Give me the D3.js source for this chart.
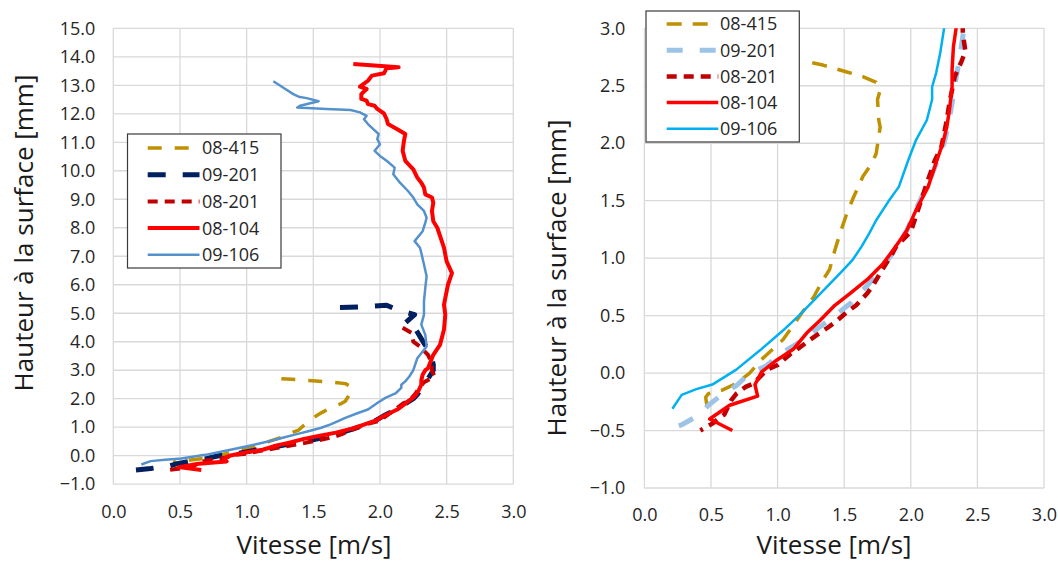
<!DOCTYPE html>
<html><head><meta charset="utf-8">
<script src="https://cdn.jsdelivr.net/npm/d3@7"></script>
<style>
body{margin:0;background:#fff}
svg{display:block}
text{font-family:"Open Sans",sans-serif}
</style>
</head><body>
<svg id="c" width="1058" height="563"></svg>
<script>
// ---------- DATA ----------
const seriesNames = ["08-415", "09-201", "08-201", "08-104", "09-106"];
const xTickValues = [0, 0.5, 1, 1.5, 2, 2.5, 3];
const leftYTickValues = [-1, 0, 1, 2, 3, 4, 5, 6, 7, 8, 9, 10, 11, 12, 13, 14, 15];
const rightYTickValues = [-1, -0.5, 0, 0.5, 1, 1.5, 2, 2.5, 3];
const xTitle = "Vitesse [m/s]";
const yTitle = "Hauteur à la surface [mm]";

// [vitesse m/s, hauteur mm]
const s08_415 = [[1.26,2.70],[1.34,2.68],[1.52,2.62],[1.64,2.58],[1.74,2.53],[1.77,2.46],[1.75,2.38],[1.76,2.20],
  [1.77,2.14],[1.74,1.91],[1.71,1.83],[1.64,1.71],[1.57,1.53],[1.52,1.39],[1.47,1.22],[1.43,1.07],[1.39,0.90],
  [1.34,0.81],[1.27,0.66],[1.18,0.52],[1.09,0.37],[1.04,0.29],[0.89,0.13],[0.79,0.00],[0.69,-0.09],[0.58,-0.15],
  [0.48,-0.18],[0.46,-0.21],[0.47,-0.29]];
const s09_201 = [[1.70,5.20],[1.84,5.22],[2.05,5.28],[2.14,5.10],[2.26,4.95],[2.18,4.62],[2.27,4.42],[2.33,3.95],
  [2.38,3.60],[2.40,3.20],[2.40,3.00],[2.38,2.85],[2.36,2.70],[2.33,2.50],[2.31,2.35],[2.28,2.15],[2.25,2.00],
  [2.19,1.82],[2.13,1.65],[2.04,1.43],[1.97,1.24],[1.90,1.10],[1.80,0.94],[1.68,0.77],[1.55,0.61],[1.42,0.49],
  [1.29,0.38],[1.14,0.25],[1.08,0.21],[0.91,0.06],[0.79,0.00],[0.69,-0.11],[0.59,-0.18],[0.48,-0.28],[0.42,-0.36],
  [0.28,-0.45],[0.17,-0.50]];
const s08_201 = [[2.17,4.49],[2.24,4.30],[2.25,4.00],[2.30,3.83],[2.36,3.54],[2.39,3.25],[2.39,2.96],[2.41,2.80],
  [2.38,2.71],[2.33,2.58],[2.29,2.35],[2.27,2.20],[2.23,1.97],[2.18,1.85],[2.12,1.65],[2.00,1.23],[1.89,1.10],
  [1.84,1.00],[1.77,0.87],[1.71,0.75],[1.67,0.69],[1.59,0.59],[1.52,0.53],[1.44,0.45],[1.37,0.39],[1.28,0.32],
  [1.22,0.27],[1.14,0.20],[1.09,0.16],[1.00,0.07],[0.92,0.03],[0.82,-0.09],[0.76,-0.12],[0.69,-0.18],[0.65,-0.24],
  [0.60,-0.36],[0.51,-0.44],[0.42,-0.50]];
const s08_104 = [[1.80,13.75],[2.14,13.63],[2.05,13.60],[2.03,13.42],[1.94,13.34],[1.91,13.16],[1.85,12.95],
  [1.90,12.87],[1.86,12.69],[1.86,12.52],[1.90,12.46],[1.91,12.34],[1.96,12.28],[1.98,12.17],[2.03,12.01],
  [2.05,11.81],[2.06,11.64],[2.13,11.46],[2.19,11.29],[2.18,11.05],[2.17,10.70],[2.19,10.35],[2.25,10.05],
  [2.28,9.76],[2.31,9.58],[2.33,9.41],[2.34,9.17],[2.39,9.06],[2.40,8.88],[2.39,8.59],[2.40,8.23],[2.43,8.00],
  [2.48,7.30],[2.50,6.82],[2.54,6.41],[2.51,6.00],[2.50,5.77],[2.48,5.30],[2.49,4.95],[2.48,4.42],[2.45,3.89],
  [2.40,3.54],[2.36,3.07],[2.34,3.00],[2.32,2.84],[2.31,2.64],[2.31,2.49],[2.29,2.29],[2.27,2.14],[2.24,2.00],
  [2.19,1.83],[2.13,1.62],[2.04,1.42],[1.97,1.24],[1.88,1.09],[1.79,0.95],[1.67,0.81],[1.54,0.69],[1.43,0.59],
  [1.32,0.46],[1.22,0.35],[1.12,0.21],[0.99,0.11],[0.88,0.01],[0.83,-0.10],[0.85,-0.20],[0.64,-0.28],
  [0.49,-0.40],[0.66,-0.50]];
const s09_106 = [[1.20,13.14],[1.25,12.99],[1.29,12.87],[1.35,12.69],[1.39,12.60],[1.45,12.55],[1.54,12.44],
  [1.40,12.28],[1.38,12.22],[1.60,12.17],[1.78,12.13],[1.85,12.05],[1.90,11.93],[1.88,11.81],[1.91,11.64],
  [1.95,11.46],[1.99,11.29],[1.98,11.11],[2.00,10.93],[1.96,10.70],[2.00,10.52],[2.05,10.35],[2.11,10.11],
  [2.10,9.88],[2.15,9.58],[2.21,9.29],[2.25,9.06],[2.28,8.82],[2.33,8.59],[2.35,8.35],[2.34,8.18],[2.32,7.88],
  [2.26,7.53],[2.30,7.30],[2.31,7.12],[2.33,6.71],[2.35,6.30],[2.34,5.89],[2.33,5.42],[2.33,4.95],[2.31,4.60],
  [2.34,4.24],[2.35,3.83],[2.28,3.42],[2.25,3.00],[2.22,2.78],[2.19,2.61],[2.16,2.49],[2.16,2.38],[2.12,2.20],
  [2.04,2.03],[1.98,1.85],[1.91,1.62],[1.83,1.49],[1.74,1.33],[1.69,1.22],[1.63,1.10],[1.56,0.98],[1.47,0.87],
  [1.37,0.75],[1.27,0.63],[1.16,0.50],[1.04,0.37],[0.87,0.20],[0.69,0.03],[0.51,-0.10],[0.39,-0.14],[0.28,-0.19],
  [0.21,-0.31]];
const seriesData = [s08_415, s09_201, s08_201, s08_104, s09_106];

// ---------- STYLES ----------
const leftStyles = [
  {color:"#bf9000", width:3.5, dash:"14,13"},
  {color:"#002060", width:5,   dash:"18,17"},
  {color:"#c00000", width:4,   dash:"10,7"},
  {color:"#ff0000", width:4,   dash:null},
  {color:"#5591cc", width:2.5, dash:null}
];
const rightStyles = [
  {color:"#bf9000", width:3.5, dash:"15,11"},
  {color:"#9dc3e6", width:5,   dash:"16,17"},
  {color:"#c00000", width:4.5, dash:"10,7"},
  {color:"#ff0000", width:3.5, dash:null},
  {color:"#00b0f0", width:2.5, dash:null}
];

const svg = d3.select("#c");
const fmt = d3.format(".1f");

function drawChart(cfg) {
  const {x, y, yTicks, xGrid, yGrid, styles, id, legend, xTitlePos, yTitlePos, xPad, yPad} = cfg;
  const g = svg.append("g");
  const [x0, x1] = x.range(), [y0, y1] = y.range();
  // grid
  g.append("g").selectAll("line").data(xGrid).join("line")
    .attr("x1", d => x(d)).attr("x2", d => x(d)).attr("y1", y0).attr("y2", y1)
    .attr("stroke", "#d9d9d9").attr("stroke-width", 1.3);
  g.append("g").selectAll("line").data(yGrid).join("line")
    .attr("y1", d => y(d)).attr("y2", d => y(d)).attr("x1", x0).attr("x2", x1)
    .attr("stroke", "#d9d9d9").attr("stroke-width", 1.3);
  // axes
  const ax = g.append("g").attr("transform", `translate(0,${y0})`)
    .call(d3.axisBottom(x).tickValues(xTickValues).tickFormat(fmt).tickSize(0).tickPadding(xPad));
  const ay = g.append("g").attr("transform", `translate(${x0},0)`)
    .call(d3.axisLeft(y).tickValues(yTicks).tickFormat(fmt).tickSize(0).tickPadding(yPad));
  [ax, ay].forEach(a => {
    a.select(".domain").remove();
    a.selectAll("text").attr("font-size", 18).attr("fill", "#262626")
      .attr("font-family", '"Open Sans", sans-serif');
  });
  // clip
  svg.append("clipPath").attr("id", id).append("rect")
    .attr("x", x0).attr("y", y1).attr("width", x1 - x0).attr("height", y0 - y1);
  const line = d3.line().x(d => x(d[0])).y(d => y(d[1]));
  const lg = g.append("g").attr("clip-path", `url(#${id})`);
  seriesData.forEach((data, i) => {
    const st = styles[i];
    lg.append("path").attr("d", line(data)).attr("fill", "none")
      .attr("stroke", st.color).attr("stroke-width", st.width)
      .attr("stroke-dasharray", st.dash).attr("stroke-linejoin", "round");
  });
  // legend
  const L = legend;
  const leg = g.append("g");
  leg.append("rect").attr("x", L.x).attr("y", L.y).attr("width", L.w).attr("height", L.h)
    .attr("fill", "#fff").attr("stroke", "#3a3a3a").attr("stroke-width", 1.2);
  seriesNames.forEach((name, i) => {
    const st = styles[i];
    const yy = L.row0 + i * L.rowStep;
    leg.append("line").attr("x1", L.lx1).attr("x2", L.lx2).attr("y1", yy).attr("y2", yy)
      .attr("stroke", st.color).attr("stroke-width", st.width).attr("stroke-dasharray", st.dash);
    leg.append("text").attr("x", L.tx).attr("y", yy).attr("dy", "0.36em")
      .attr("font-size", 18).attr("fill", "#262626").text(name);
  });
  // titles
  g.append("text").attr("x", xTitlePos[0]).attr("y", xTitlePos[1]).attr("text-anchor", "middle")
    .attr("font-size", 26).attr("fill", "#1a1a1a").text(xTitle);
  g.append("text").attr("transform", `translate(${yTitlePos[0]},${yTitlePos[1]}) rotate(-90)`)
    .attr("text-anchor", "middle").attr("font-size", 26).attr("fill", "#1a1a1a").text(yTitle);
}

drawChart({
  id: "clipL",
  x: d3.scaleLinear([0, 3], [113.3, 513.3]),
  y: d3.scaleLinear([-1, 15], [484.2, 28.3]),
  yTicks: leftYTickValues,
  xGrid: xTickValues,
  yGrid: leftYTickValues,
  styles: leftStyles,
  xPad: 21, yPad: 18,
  legend: {x:127.5, y:134, w:153.5, h:134, row0:148, rowStep:26.7, lx1:147.7, lx2:199.5, tx:202},
  xTitlePos: [314, 554],
  yTitlePos: [33, 233]
});

drawChart({
  id: "clipR",
  x: d3.scaleLinear([0, 3], [644.4, 1044]),
  y: d3.scaleLinear([-1, 3], [488, 28.3]),
  yTicks: rightYTickValues,
  xGrid: xTickValues,
  yGrid: rightYTickValues,
  styles: rightStyles,
  xPad: 20, yPad: 19,
  legend: {x:646, y:11, w:153.3, h:131, row0:24, rowStep:26.2, lx1:666.7, lx2:718.3, tx:720},
  xTitlePos: [834, 554],
  yTitlePos: [566, 278]
});
</script>
</body></html>
